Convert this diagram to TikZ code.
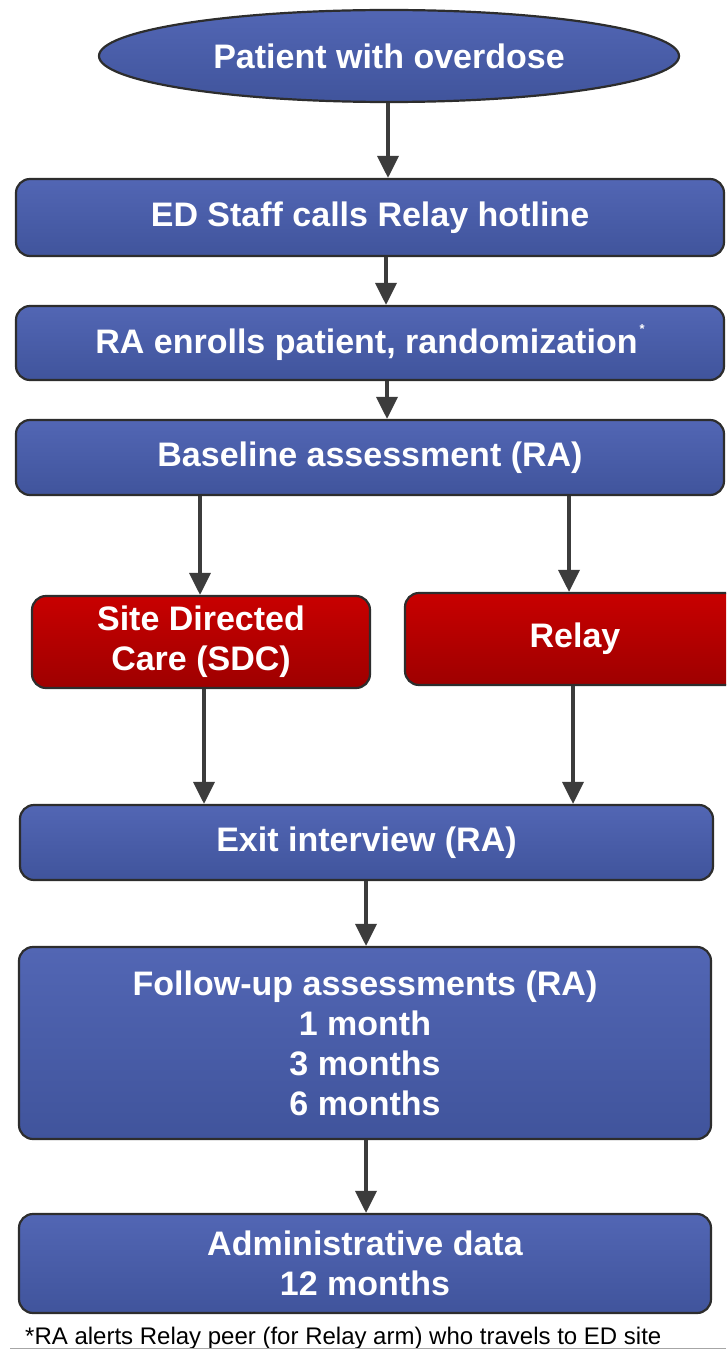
\documentclass[tikz,border=0pt]{standalone}
\usepackage{fontspec}
\setmainfont{Liberation Sans}
\usetikzlibrary{arrows.meta,shapes.geometric}
\definecolor{bluetop}{RGB}{82,102,180}
\definecolor{bluebot}{RGB}{64,84,156}
\definecolor{redtop}{RGB}{200,0,0}
\definecolor{redbot}{RGB}{158,0,0}
\definecolor{edgec}{RGB}{45,45,45}
\definecolor{arrowc}{RGB}{60,60,60}
\begin{document}
\begin{tikzpicture}[x=1pt,y=-1pt,
  box/.style={draw=edgec, line width=2.2pt, rounded corners=14pt,
    top color=bluetop, bottom color=bluebot, text=white,
    font=\bfseries\fontsize{34}{40}\selectfont, align=center, inner sep=0pt},
  redbox/.style={box, top color=redtop, bottom color=redbot},
  arr/.style={draw=arrowc, line width=3.5pt, -{Triangle[width=21pt,length=22pt]}},
  note/.style={font=\fontsize{24}{26}\selectfont, inner sep=0pt, anchor=base west}
  ]
\clip (0,0) rectangle (726,1351);
\fill[white] (0,0) rectangle (726,1351);

\node[box, ellipse, minimum width=580pt, minimum height=92pt] (p) at (389,56) {Patient with overdose};
\node[box, minimum width=708pt, minimum height=77pt] (b1) at (370,217.5) {ED Staff calls Relay hotline};
\node[box, minimum width=708pt, minimum height=74pt] (b2) at (370,343) {RA enrolls patient, randomization\hspace{2pt}\raisebox{20pt}{\fontsize{13}{13}\selectfont *}};
\node[box, minimum width=708pt, minimum height=75pt] (b3) at (370,457.5) {Baseline assessment (RA)};
\node[redbox, minimum width=338pt, minimum height=92pt] (sdc) at (201,642) {Site Directed\\Care (SDC)};
\node[redbox, minimum width=340pt, minimum height=92pt] (relay) at (575,639) {Relay};
\node[box, minimum width=693pt, minimum height=75pt] (exit) at (366.5,842.5) {Exit interview (RA)};
\node[box, minimum width=692pt, minimum height=192pt] (fu) at (365,1043) {Follow-up assessments (RA)\\1 month\\3 months\\6 months};
\node[box, minimum width=692pt, minimum height=99pt] (adm) at (365,1263.5) {Administrative data\\12 months};
\node[note] (fn) at (25,1344) {*RA alerts Relay peer (for Relay arm) who travels to ED site};
\draw[gray!70, line width=1.5pt] (10,1348.5) -- (726,1348.5);

\coordinate (c0) at (388,0);
\coordinate (c1) at (386,0);
\coordinate (c2) at (387,0);
\coordinate (cl) at (200,0);
\coordinate (cr) at (569,0);
\coordinate (dl) at (204,0);
\coordinate (dr) at (573,0);
\coordinate (ce) at (366,0);
\coordinate (cf) at (366,0);

\draw[arr] (p.south -| c0) -- (b1.north -| c0);
\draw[arr] (b1.south -| c1) -- (b2.north -| c1);
\draw[arr] (b2.south -| c2) -- (b3.north -| c2);
\draw[arr] (b3.south -| cl) -- (sdc.north -| cl);
\draw[arr] (b3.south -| cr) -- (relay.north -| cr);
\draw[arr] (sdc.south -| dl) -- (exit.north -| dl);
\draw[arr] (relay.south -| dr) -- (exit.north -| dr);
\draw[arr] (exit.south -| ce) -- (fu.north -| ce);
\draw[arr] (fu.south -| cf) -- (adm.north -| cf);
\end{tikzpicture}
\end{document}
